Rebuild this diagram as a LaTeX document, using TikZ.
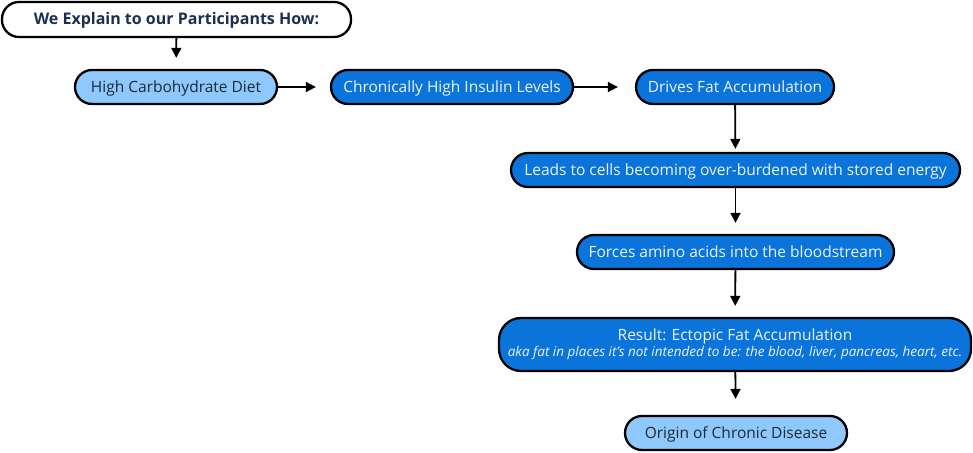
\documentclass[tikz,border=0pt]{standalone}
\usepackage{fontspec}
\setmainfont{Open Sans}
\usetikzlibrary{positioning, arrows.meta}
\definecolor{lightblue}{HTML}{8EC8FC}
\definecolor{darkblue}{HTML}{0A74DA}
\definecolor{navy}{HTML}{1B3050}
\definecolor{inktext}{HTML}{1E2A36}
\definecolor{paletext}{HTML}{EEF4FC}

\begin{document}
\begin{tikzpicture}[x=1pt,y=1pt,->,>={Triangle[length=10pt,width=10pt]},shorten >=11pt,line width=1.8pt,
    box/.style={draw=black,line width=2.3pt,rounded corners=17pt,minimum height=34pt,inner sep=0pt,
      text height=11pt,text depth=0pt,font=\fontsize{15.5}{18}\selectfont},
    light/.style={box,fill=lightblue,text=inktext},
    dark/.style={box,fill=darkblue,text=paletext}]
      \useasboundingbox (0,0) rectangle (973,452);
      \node[box,fill=white,text=navy,minimum width=349pt,minimum height=35pt,font=\fontsize{16}{18}\selectfont\bfseries] (title) at (176.5,432.5) {We Explain to our Participants How:};
      \node[light,minimum width=202pt] (diet) at (176,365) {High Carbohydrate Diet};
      \node[dark,minimum width=242pt] (insulin) at (452,365) {Chronically High Insulin Levels};
      \node[dark,minimum width=198pt] (fat) at (735,365) {Drives Fat Accumulation};
      \node[dark,minimum width=449pt] (cells) at (735.5,282) {Leads to cells becoming over-burdened with stored energy};
      \node[dark,minimum width=317pt] (amino) at (735.5,200) {Forces amino acids into the bloodstream};
      \node[dark,text height={},text depth={},minimum width=472pt,minimum height=53pt,rounded corners=22pt,align=center] (ectopic) at (735,107.5) {Result: Ectopic Fat Accumulation\\[-2pt]{\fontsize{13.5}{15}\selectfont\itshape aka fat in places it’s not intended to be: the blood, liver, pancreas, heart, etc.}};
      \node[light,minimum width=222pt] (origin) at (736,19) {Origin of Chronic Disease};

      \path (title) edge (diet)
            (diet) edge [shorten >=14pt] (insulin)
            (insulin) edge [shorten >=17pt] (fat)
            (fat) edge [shorten >=3pt] (cells)
            (cells) edge (amino)
            (amino) edge (ectopic)
            (ectopic) edge [shorten >=16pt] (origin)
            ;
\end{tikzpicture}
\end{document}
